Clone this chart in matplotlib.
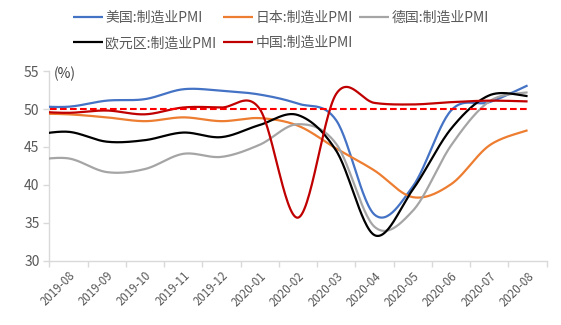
import numpy as np
import matplotlib
matplotlib.use("Agg")
import matplotlib.pyplot as plt

plt.rcParams['font.family'] = ['Noto Sans CJK SC', 'DejaVu Sans']

# Months shown on the axis (a leading 2019-07 point lets the curves run into the axis edge)
months = ["2019-08", "2019-09", "2019-10", "2019-11", "2019-12", "2020-01", "2020-02",
          "2020-03", "2020-04", "2020-05", "2020-06", "2020-07", "2020-08"]

# Manufacturing PMI, 2019-07 .. 2020-08
us_pmi = [50.4, 50.3, 51.1, 51.3, 52.6, 52.4, 51.9, 50.7, 48.5, 36.1, 39.8, 49.8, 50.9, 53.1]
jp_pmi = [49.4, 49.3, 48.9, 48.4, 48.9, 48.4, 48.8, 47.8, 44.8, 41.9, 38.4, 40.1, 45.2, 47.2]
de_pmi = [43.2, 43.5, 41.7, 42.1, 44.1, 43.7, 45.3, 48.0, 45.4, 34.5, 36.6, 45.2, 51.0, 52.2]
ez_pmi = [46.5, 47.0, 45.7, 45.9, 46.9, 46.3, 47.9, 49.2, 44.5, 33.4, 39.4, 47.4, 51.8, 51.7]
cn_pmi = [49.7, 49.5, 49.8, 49.3, 50.2, 50.2, 50.0, 35.7, 52.0, 50.8, 50.6, 50.9, 51.1, 51.0]
threshold = 50.0

labels = ["美国:制造业PMI", "日本:制造业PMI", "德国:制造业PMI", "欧元区:制造业PMI", "中国:制造业PMI"]
colors = ["#4472C4", "#ED7D31", "#A5A5A5", "#000000", "#C00000"]
series = [us_pmi, jp_pmi, de_pmi, ez_pmi, cn_pmi]

x = np.arange(len(us_pmi)) - 1.0  # index 0 == 2019-08


def smooth(xs, ys, steps=30):
    """Cubic Bezier smoothing through every point (Catmull-Rom style control points)."""
    xs = np.asarray(xs, float)
    ys = np.asarray(ys, float)
    n = len(xs)
    px = np.concatenate([[xs[0]], xs, [xs[-1]]])
    py = np.concatenate([[ys[0]], ys, [ys[-1]]])
    outx, outy = [], []
    t = np.linspace(0, 1, steps, endpoint=False)
    for i in range(n - 1):
        p0 = np.array([px[i], py[i]])
        p1 = np.array([px[i + 1], py[i + 1]])
        p2 = np.array([px[i + 2], py[i + 2]])
        p3 = np.array([px[i + 3], py[i + 3]])
        c1 = p1 + (p2 - p0) / 6.0
        c2 = p2 - (p3 - p1) / 6.0
        b = ((1 - t) ** 3)[:, None] * p1 + (3 * (1 - t) ** 2 * t)[:, None] * c1 \
            + (3 * (1 - t) * t ** 2)[:, None] * c2 + (t ** 3)[:, None] * p2
        outx.extend(b[:, 0])
        outy.extend(b[:, 1])
    outx.append(xs[-1])
    outy.append(ys[-1])
    return np.array(outx), np.array(outy)


fig = plt.figure(figsize=(5.61, 3.25), dpi=100)
ax = fig.add_axes([0.0879, 0.197, 0.8866, 0.5845])

handles = []
for ys, lab, col in zip(series, labels, colors):
    sx, sy = smooth(x, ys)
    h, = ax.plot(sx, sy, color=col, lw=1.6, label=lab, solid_capstyle='butt', zorder=3)
    handles.append(h)

ax.plot(x, [threshold] * len(x), color="#FF0000", lw=1.5, dashes=(3.2, 1.6), zorder=4)

ax.set_xlim(-0.5, len(months) - 0.5)
ax.set_ylim(30, 55)
ax.set_yticks(np.arange(30, 56, 5))
ax.set_xticks(np.arange(len(months)))
ax.set_xticklabels(months, rotation=45, ha='right', va='top', rotation_mode='anchor')
ax.set_xticks(np.arange(len(months) + 1) - 0.5, minor=True)
ax.tick_params(axis='x', which='major', length=0, pad=6, labelsize=8.3, labelcolor="#595959")
ax.tick_params(axis='x', which='minor', length=4, color="#D9D9D9", width=1)
ax.tick_params(axis='y', length=4, color="#D9D9D9", width=1, labelsize=10, labelcolor="#595959", pad=3)

for side in ("top", "right"):
    ax.spines[side].set_visible(False)
for side in ("left", "bottom"):
    ax.spines[side].set_color("#D9D9D9")
    ax.spines[side].set_linewidth(1)

ax.text(0.008, 0.985, "(%)", transform=ax.transAxes, ha='left', va='center',
        fontsize=10, color="#404040")

# legend: three columns, row-major order
order = [0, 3, 1, 4, 2]
leg = fig.legend([handles[i] for i in order], [labels[i] for i in order],
                 ncol=3, loc='upper left', bbox_to_anchor=(0.111, 1.0),
                 frameon=False, fontsize=10, handlelength=2.2, handletextpad=0.15,
                 columnspacing=0.45, labelspacing=0.85, borderpad=0.25)
for t in leg.get_texts():
    t.set_color("#595959")

fig.savefig("out.png", dpi=100)
